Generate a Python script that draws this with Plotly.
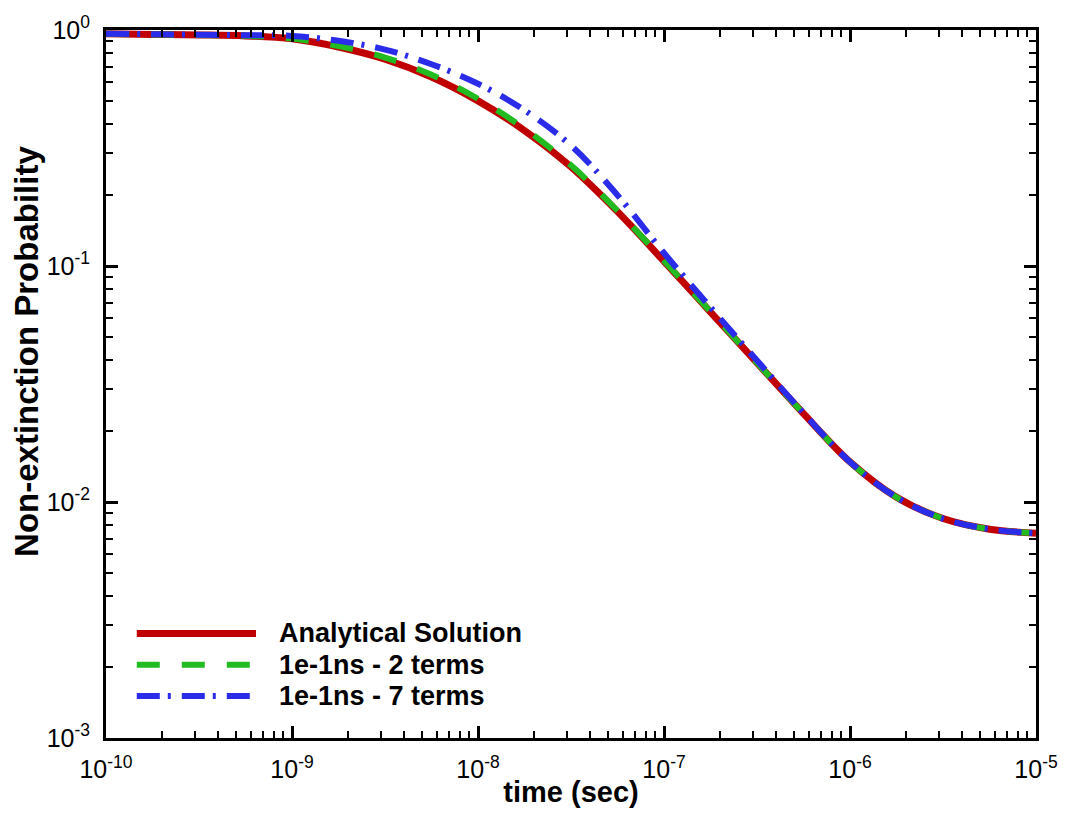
import plotly.graph_objects as go

# ---- data ----
log_time = [-10, -9.75, -9.5, -9.25, -9, -8.75, -8.5, -8.25, -8, -7.75, -7.5,
            -7.25, -7, -6.75, -6.5, -6.25, -6, -5.75, -5.5, -5.25, -5]
time_s = [10 ** v for v in log_time]

analytical = [0.963, 0.958, 0.953, 0.944, 0.918, 0.847, 0.752, 0.632, 0.501, 0.375, 0.263,
              0.170, 0.1047, 0.0638, 0.0389, 0.0237, 0.01479, 0.01047, 0.00851, 0.00767, 0.00738]
terms2 = [0.963, 0.958, 0.953, 0.945, 0.920, 0.855, 0.764, 0.646, 0.511, 0.382, 0.267,
          0.1714, 0.1052, 0.0640, 0.0389, 0.0237, 0.01479, 0.01047, 0.00851, 0.00767, 0.00738]
terms7 = [0.963, 0.960, 0.955, 0.950, 0.944, 0.900, 0.826, 0.716, 0.592, 0.457, 0.324,
          0.1995, 0.1135, 0.0668, 0.0398, 0.0238, 0.01479, 0.01047, 0.00851, 0.00767, 0.00738]

series_names = ["Analytical Solution", "1e-1ns - 2 terms", "1e-1ns - 7 terms"]
series_colors = ["#c00000", "#22bb22", "#2b2bea"]

x_tickvals = [1e-10, 1e-9, 1e-8, 1e-7, 1e-6, 1e-5]
x_ticktext = ["10<sup>-10</sup>", "10<sup>-9</sup>", "10<sup>-8</sup>", "10<sup>-7</sup>",
              "10<sup>-6</sup>", "10<sup>-5</sup>"]
y_tickvals = [1e-3, 1e-2, 1e-1, 1]
y_ticktext = ["10<sup>-3</sup>", "10<sup>-2</sup>", "10<sup>-1</sup>", "10<sup>0</sup>"]

x_minor = [m * 10 ** e for e in range(-10, -5) for m in range(2, 10)]
y_minor = [m * 10 ** e for e in range(-3, 0) for m in range(2, 10)]

dashes = ["solid", "23px,22px", "23px,8px,3px,11px"]
widths = [7, 6, 6]

FONT = "Liberation Sans, Arial"

fig = go.Figure()
for vals, name, col, dash, w in zip([analytical, terms2, terms7], series_names,
                                     series_colors, dashes, widths):
    fig.add_trace(go.Scatter(x=time_s, y=vals, mode="lines", name=name,
                             line=dict(color=col, width=w, dash=dash, shape="spline"),
                             showlegend=False))

# custom legend (long line samples as in the reference)
leg_rows = [0.1476, 0.1034, 0.0593]
leg_widths = [7, 6, 6]
for yy, name, col, dash, w in zip(leg_rows, series_names, series_colors, dashes, leg_widths):
    fig.add_shape(type="line", xref="paper", yref="paper", x0=0.0331, x1=0.1613,
                  y0=yy, y1=yy, line=dict(color=col, width=w, dash=dash))
    fig.add_annotation(xref="paper", yref="paper", x=0.1838, y=yy, text=name,
                       showarrow=False, xanchor="left", yanchor="middle",
                       font=dict(family=FONT, size=27, color="black", weight="bold"))

# y-axis title (placed like the reference, slightly above centre)
fig.add_annotation(xref="paper", yref="paper", x=-0.0855, y=0.546, xanchor="center",
                   yanchor="middle", textangle=-90, showarrow=False,
                   text="Non-extinction Probability",
                   font=dict(family=FONT, size=33, color="black", weight="bold"))

axis_common = dict(
    type="log", showgrid=False, zeroline=False,
    showline=True, linewidth=3, linecolor="black", mirror="ticks",
    ticks="inside", ticklen=12, tickwidth=3, tickcolor="black",
    tickfont=dict(family=FONT, size=25, color="black"),
)

fig.update_xaxes(**axis_common, range=[-10, -5], tickvals=x_tickvals, ticktext=x_ticktext,
                 minor=dict(tickvals=x_minor, ticks="inside", ticklen=7, tickwidth=1.5,
                            tickcolor="black"),
                 ticklabelstandoff=7,
                 title=dict(text="time (sec)", standoff=0,
                            font=dict(family=FONT, size=29, color="black", weight="bold")))
fig.update_yaxes(**axis_common, range=[-3, 0], tickvals=y_tickvals, ticktext=y_ticktext,
                 minor=dict(tickvals=y_minor, ticks="inside", ticklen=7, tickwidth=1.5,
                            tickcolor="black"),
                 ticklabelstandoff=8)

fig.update_layout(
    width=1070, height=815,
    margin=dict(l=106, r=28, t=22, b=68),
    paper_bgcolor="white", plot_bgcolor="white",
    showlegend=False,
)

fig.write_html("out.html")
